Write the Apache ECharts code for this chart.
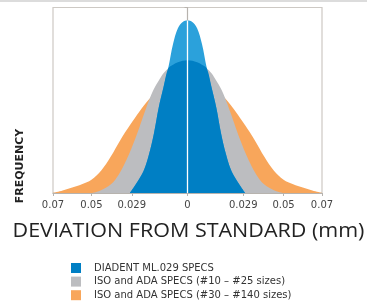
<!DOCTYPE html>
<html>
<head>
<meta charset="utf-8">
<script src="https://cdn.jsdelivr.net/npm/echarts@6/dist/echarts.min.js"></script>
<style>html,body{margin:0;padding:0;background:#fff}#c{width:367px;height:306px}</style>
</head>
<body>
<div id="c"></div>
<script>
// Tick labels on the x axis (deviation, mm)
const xTicks = [-0.07, -0.05, -0.029, 0, 0.029, 0.05, 0.07];

// Series names
const names = ['DIADENT ML.029 SPECS', 'ISO and ADA SPECS (#10 – #25 sizes)', 'ISO and ADA SPECS (#30 – #140 sizes)'];

// DIADENT ML.029 curve
const blueX = [-0.03,-0.0275,-0.025,-0.0225,-0.02,-0.0175,-0.015,-0.0125,-0.01,-0.0075,-0.005,-0.0025,0,
               0.0025,0.005,0.0075,0.01,0.0125,0.015,0.0175,0.02,0.0225,0.025,0.0275,0.03];
const blueY = [0,0.38,0.78,1.28,2.1,3.2,4.6,5.7,6.75,8.05,8.88,9.22,9.3,
               9.22,8.88,8.05,6.75,5.7,4.6,3.2,2.1,1.28,0.78,0.38,0];

// ISO/ADA #10-#25 curve
const grayX = [-0.05,-0.0475,-0.045,-0.0425,-0.04,-0.0375,-0.035,-0.0325,-0.03,-0.0275,-0.025,-0.0225,-0.02,-0.0175,-0.015,-0.0125,-0.01,-0.0075,-0.005,-0.0025,0,
               0.0025,0.005,0.0075,0.01,0.0125,0.015,0.0175,0.02,0.0225,0.025,0.0275,0.03,0.0325,0.035,0.0375,0.04,0.0425,0.045,0.0475,0.05];
const grayY = [0,0.06,0.15,0.28,0.46,0.73,1.13,1.63,2.2,2.85,3.55,4.3,5.0,5.6,6.05,6.45,6.72,6.92,7.05,7.13,7.16,
               7.13,7.05,6.92,6.72,6.45,6.05,5.6,5.0,4.3,3.55,2.85,2.2,1.63,1.13,0.73,0.46,0.28,0.15,0.06,0];

// ISO/ADA #30-#140 curve
const orangeX = [-0.07,-0.065,-0.06,-0.055,-0.05,-0.045,-0.04,-0.035,-0.03,-0.025,-0.02,-0.015,-0.01,-0.005,0,
                 0.005,0.01,0.015,0.02,0.025,0.03,0.035,0.04,0.045,0.05,0.055,0.06,0.065,0.07];
const orangeY = [0,0.13,0.3,0.47,0.72,1.2,1.95,2.85,3.65,4.4,5.05,5.55,5.9,6.15,6.22,
                 6.15,5.9,5.55,5.05,4.4,3.65,2.85,1.95,1.2,0.72,0.47,0.3,0.13,0];

const colors = { orange: '#f8a65b', gray: '#bcbdc0', blueDark: '#007fc4', blueLight: '#2ba1db' };

const pairs = (xs, ys) => xs.map((x, i) => [x, ys[i]]);
const grayAt = x => { const j = grayX.findIndex(g => Math.abs(g - x) < 1e-9); return j >= 0 ? grayY[j] : 0; };
const blueOverlap = blueX.map((x, i) => [x, Math.min(blueY[i], grayAt(x))]);

const areaSeries = (name, data, color) => ({
  name, type: 'line', data, smooth: 0.35, showSymbol: false, silent: true,
  lineStyle: { width: 0 }, areaStyle: { color, opacity: 1 }, itemStyle: { color }
});

const chart = echarts.init(document.getElementById('c'), null, { renderer: 'canvas' });
chart.setOption({
  animation: false,
  backgroundColor: '#fff',
  grid: { left: 53, right: 45, top: 7.5, bottom: 113, show: true, borderColor: '#cdc9c4', borderWidth: 1.2 },
  xAxis: {
    type: 'value', min: -0.07, max: 0.07,
    axisLine: { lineStyle: { color: '#b7b3ae', width: 1.2 } },
    axisTick: { customValues: xTicks, length: 3, lineStyle: { color: '#b7b3ae' } },
    axisLabel: { customValues: xTicks, formatter: v => String(Math.abs(v)), fontSize: 10,
                 fontFamily: 'DejaVu Sans', color: '#444', margin: 7 },
    splitLine: { show: false }
  },
  yAxis: {
    type: 'value', min: 0, max: 10, interval: 1,
    axisLine: { show: true, lineStyle: { color: '#b7b3ae', width: 1.2 } },
    axisTick: { show: true, length: 3, lineStyle: { color: '#b7b3ae' } },
    axisLabel: { show: false },
    splitLine: { show: false }
  },
  legend: {
    data: names, orient: 'vertical', left: 71, top: 263, padding: 0, itemWidth: 10, itemHeight: 10, itemGap: 3.6,
    icon: 'rect', textStyle: { fontSize: 10, fontFamily: 'DejaVu Sans', color: '#333', padding: [0,0,0,8] },
    selectedMode: false
  },
  series: [
    areaSeries(names[2], pairs(orangeX, orangeY), colors.orange),
    areaSeries(names[1], pairs(grayX, grayY), colors.gray),
    areaSeries('DIADENT peak', pairs(blueX, blueY), colors.blueLight),
    areaSeries(names[0], blueOverlap, colors.blueDark),
    { type: 'line', data: [[0, 0], [0, blueY[blueX.indexOf(0)]]], showSymbol: false, silent: true,
      lineStyle: { color: '#ffffff', width: 1.3 } }
  ],
  graphic: [
    { type: 'rect', left: 0, top: 0, shape: { width: 367, height: 2 }, style: { fill: '#dcdcdc' } },
    { type: 'text', x: 20, y: 166, rotation: Math.PI / 2,
      style: { text: 'FREQUENCY', font: 'bold 11px "DejaVu Sans"', fill: '#222', textAlign: 'center', textVerticalAlign: 'middle' } },
    { type: 'text', x: 188.5, y: 231, scaleX: 1.075,
      style: { text: 'DEVIATION FROM STANDARD (mm)', font: '20px "Open Sans"', fill: '#222', textAlign: 'center', textVerticalAlign: 'middle' } }
  ]
});
</script>
</body>
</html>
